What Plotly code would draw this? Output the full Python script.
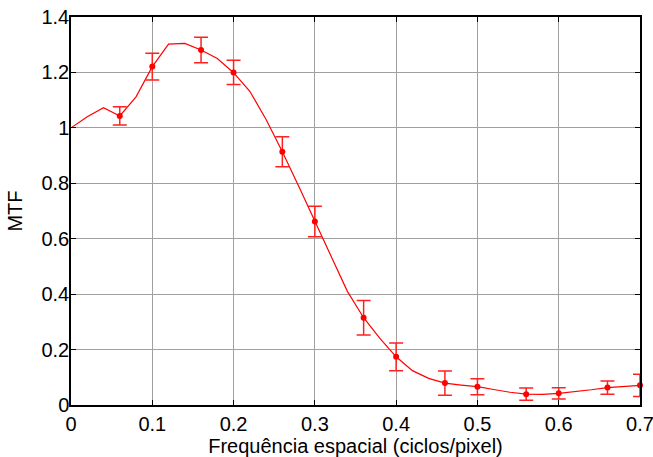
import plotly.graph_objects as go

# Smooth (fitted) MTF curve
line_x = [0.00, 0.02, 0.04, 0.06, 0.08, 0.10, 0.12, 0.14, 0.16, 0.18, 0.20, 0.22,
          0.24, 0.26, 0.28, 0.30, 0.32, 0.34, 0.36, 0.38, 0.40, 0.42, 0.44, 0.46,
          0.48, 0.50, 0.52, 0.54, 0.56, 0.58, 0.60, 0.62, 0.64, 0.66, 0.68, 0.70]
line_y = [1.000, 1.040, 1.073, 1.043, 1.112, 1.221, 1.302, 1.305, 1.281, 1.250, 1.199, 1.132,
          1.030, 0.914, 0.790, 0.662, 0.532, 0.410, 0.315, 0.240, 0.174, 0.124, 0.096, 0.079,
          0.072, 0.066, 0.056, 0.046, 0.039, 0.038, 0.042, 0.048, 0.055, 0.063, 0.067, 0.071]

# Measured points with error bars
pt_x = [0.06, 0.10, 0.16, 0.20, 0.26, 0.30, 0.36, 0.40, 0.46, 0.50, 0.56, 0.60, 0.66, 0.70]
pt_y = [1.043, 1.221, 1.281, 1.200, 0.914, 0.662, 0.315, 0.174, 0.079, 0.066, 0.039, 0.042, 0.063, 0.071]
pt_err = [0.033, 0.048, 0.046, 0.044, 0.054, 0.055, 0.062, 0.050, 0.044, 0.029, 0.022, 0.020, 0.024, 0.040]

x_ticks = [0, 0.1, 0.2, 0.3, 0.4, 0.5, 0.6, 0.7]
x_labels = ["0", "0.1", "0.2", "0.3", "0.4", "0.5", "0.6", "0.7"]
y_ticks = [0, 0.2, 0.4, 0.6, 0.8, 1.0, 1.2, 1.4]
y_labels = ["0", "0.2", "0.4", "0.6", "0.8", "1", "1.2", "1.4"]

FONT = "Liberation Sans, Arial, sans-serif"

fig = go.Figure()
fig.add_trace(go.Scatter(x=line_x, y=line_y, mode="lines",
                         line=dict(color="#ff0000", width=1.2), showlegend=False,
                         cliponaxis=False))
fig.add_trace(go.Scatter(x=pt_x, y=pt_y, mode="markers",
                         marker=dict(color="#ff0000", size=6),
                         error_y=dict(type="data", array=pt_err, visible=True,
                                      color="#ff2020", thickness=1.5, width=7),
                         showlegend=False, cliponaxis=False))

axis_common = dict(showgrid=True, gridcolor="#a0a0a0", gridwidth=1,
                   showline=True, linecolor="black", linewidth=1.5, mirror="ticks",
                   ticks="inside", ticklen=5, tickcolor="black", zeroline=False,
                   automargin=False, ticklabeloverflow="allow",
                   tickfont=dict(family=FONT, size=20, color="black"))

fig.update_xaxes(range=[0, 0.7], tickvals=x_ticks, ticktext=x_labels,
                 ticklabelstandoff=0,
                 title=dict(text="Frequência espacial (ciclos/pixel)", standoff=0,
                            font=dict(family=FONT, size=20, color="black")),
                 **axis_common)
fig.update_yaxes(range=[0, 1.4], tickvals=y_ticks, ticktext=y_labels,
                 ticklabelstandoff=-4,
                 title=dict(text="MTF", standoff=13,
                            font=dict(family=FONT, size=20, color="black")),
                 **axis_common)

fig.update_layout(width=653, height=457, margin=dict(l=71, r=13, t=17, b=52),
                  plot_bgcolor="white", paper_bgcolor="white")

fig.write_html("out.html", config={"displayModeBar": False},
               post_script="document.body.style.margin='0px';document.body.style.overflow='hidden';")
